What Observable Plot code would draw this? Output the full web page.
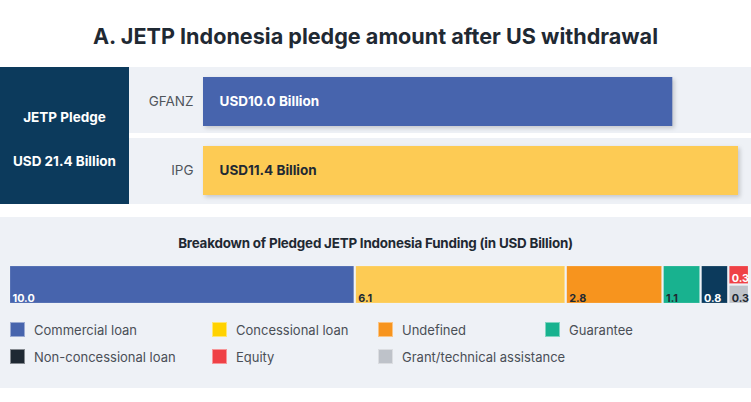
<!DOCTYPE html>
<html>
<head>
<meta charset="utf-8">
<script src="https://cdn.jsdelivr.net/npm/d3@7"></script>
<script src="https://cdn.jsdelivr.net/npm/@observablehq/plot@0.6"></script>
<style>
  html, body { margin: 0; padding: 0; background: #fff; }
  body { width: 751px; height: 402px; position: relative; overflow: hidden; font-family: Inter, "Noto Sans", sans-serif; }
  .abs { position: absolute; }
  #title { left: 0; top: 23px; width: 751px; text-align: center; font-weight: 700; font-size: 21.6px; color: #1f2933; letter-spacing: 0px; }
  #navy { left: 0; top: 67px; width: 129px; height: 137px; background: #0c3a5c; color: #fff; font-weight: 700; font-size: 13.5px; }
  #navy div { position: absolute; width: 129px; text-align: center; }
  .row { left: 129px; width: 622px; background: #eef1f6; }
  #bottomPanel { left: 0; top: 217px; width: 751px; height: 171px; background: #eef1f6; }
  #subtitle { left: 0; top: 235px; width: 751px; text-align: center; font-weight: 700; font-size: 13.4px; color: #1f2933; letter-spacing: -0.2px; }
  #top { left: 129px; top: 67px; }
  #stack { left: 0; top: 265px; }
  #top svg g[aria-label="bar"] rect { filter: drop-shadow(2px 2px 2px rgba(0,0,0,0.18)); }
  .leg { position: absolute; font-size: 13px; color: #4a4f57; white-space: nowrap; }
  .sw { position: absolute; width: 15px; height: 15px; box-sizing: border-box; border: 1px solid rgba(255,255,255,0.45); }
</style>
</head>
<body>
<div id="title" class="abs">A. JETP Indonesia pledge amount after US withdrawal</div>
<div id="navy" class="abs"><div id="navy1" style="top:42px">JETP Pledge</div><div id="navy2" style="top:86px"></div></div>
<div class="abs row" style="top:67px;height:66px"></div>
<div class="abs row" style="top:138px;height:66px"></div>
<div id="top" class="abs"></div>
<div id="bottomPanel" class="abs"></div>
<div id="subtitle" class="abs">Breakdown of Pledged JETP Indonesia Funding (in USD Billion)</div>
<div id="stack" class="abs"></div>
<div id="legend" class="abs" style="left:0;top:0"></div>
<script>
// ---- Data ----
const pledgeGroups = ["GFANZ", "IPG"];
const pledgeValues = [10.0, 11.4];
const pledgeColors = ["#4764ad", "#fdcb54"];
const pledgeLabelColors = ["#ffffff", "#1f2933"];

const fundingCategories = ["Commercial loan", "Concessional loan", "Undefined", "Guarantee", "Non-concessional loan", "Equity", "Grant/technical assistance"];
const fundingValues = [10.0, 6.1, 2.8, 1.1, 0.8, 0.3, 0.3];
const barColors = ["#4764ad", "#fdcb54", "#f7941e", "#18b28f", "#0c3a5c", "#ef4146", "#bec2c9"];
const legendColors = ["#4764ad", "#ffd200", "#f7941e", "#18b28f", "#1f2933", "#ef4146", "#bec2c9"];
const labelColors = ["#ffffff", "#1f2933", "#1f2933", "#1f2933", "#ffffff", "#ffffff", "#1f2933"];
// Equity and Grant share the last column, stacked vertically
const sharedColumn = ["Equity", "Grant/technical assistance"];

const totalPledge = d3.sum(pledgeValues);
document.getElementById("navy2").textContent = `USD ${totalPledge.toFixed(1)} Billion`;

// ---- Top chart ----
const topData = pledgeGroups.map((g, i) => ({group: g, value: pledgeValues[i], color: pledgeColors[i], lc: pledgeLabelColors[i]}));
const topChart = Plot.plot({
  width: 622,
  height: 137,
  marginLeft: 74,
  marginRight: 13,
  marginTop: 10,
  marginBottom: 9,
  style: {background: "transparent", fontFamily: "Inter, sans-serif", overflow: "visible"},
  x: {domain: [0, d3.max(pledgeValues)], axis: null},
  y: {domain: pledgeGroups, paddingInner: 20 / 69, paddingOuter: 0, label: null, tickSize: 0, tickPadding: 10},
  marks: [
    Plot.axisY({tickSize: 0, tickPadding: 10, fontSize: 13.5, color: "#50555c", label: null}),
    Plot.barX(topData, {x: "value", y: "group", fill: "color"}),
    Plot.text(topData, {x: 0, y: "group", text: d => `USD${d.value.toFixed(1)} Billion`, fill: "lc", textAnchor: "start", dx: 16, fontWeight: 700, fontSize: 13.5})
  ]
});
document.getElementById("top").append(topChart);

// ---- Stacked breakdown ----
const rows = fundingCategories.map((c, i) => ({cat: c, value: fundingValues[i], color: barColors[i], lc: labelColors[i]}));
// compute layout from values
const stackRows = [];
const sharedVals = rows.filter(r => sharedColumn.includes(r.cat));
const sharedTotal = d3.sum(sharedVals, r => r.value);
let cursor = 0;
let sharedDone = false;
for (const r of rows) {
  if (sharedColumn.includes(r.cat)) {
    if (!sharedDone) {
      let yCursor = 1;
      for (const s of sharedVals) {
        const h = s.value / sharedTotal;
        stackRows.push({...s, x1: cursor, x2: cursor + sharedTotal, y1: yCursor - h, y2: yCursor});
        yCursor -= h;
      }
      cursor += sharedTotal;
      sharedDone = true;
    }
  } else {
    stackRows.push({...r, x1: cursor, x2: cursor + r.value, y1: 0, y2: 1});
    cursor += r.value;
  }
}

const stackChart = Plot.plot({
  width: 751,
  height: 39,
  marginLeft: 9,
  marginRight: 2,
  marginTop: 0,
  marginBottom: 0,
  style: {background: "transparent", fontFamily: "Inter, sans-serif", overflow: "visible"},
  x: {domain: [0, cursor], axis: null},
  y: {domain: [0, 1], axis: null},
  marks: [
    Plot.rect(stackRows, {x1: "x1", x2: "x2", y1: "y1", y2: "y2", fill: "color", inset: 1, stroke: "#ffffff", strokeOpacity: 0.35, strokeWidth: 0.5}),
    Plot.text(stackRows, {x: "x1", y: "y1", text: d => d.value.toFixed(1), fill: "lc", textAnchor: "start", lineAnchor: "bottom", dx: 3, dy: -3, fontWeight: 700, fontSize: 10.8, letterSpacing: "-0.3px"})
  ]
});
document.getElementById("stack").append(stackChart);

// ---- Legend ----
const legendCols = [10, 212, 378, 545];
const legendRows = [322, 349];
const legend = document.getElementById("legend");
fundingCategories.forEach((c, i) => {
  const col = i % 4, row = Math.floor(i / 4);
  const sw = document.createElement("div");
  sw.className = "sw";
  sw.style.left = legendCols[col] + "px";
  sw.style.top = legendRows[row] + "px";
  sw.style.background = legendColors[i];
  legend.append(sw);
  const t = document.createElement("div");
  t.className = "leg";
  t.style.left = (legendCols[col] + 24) + "px";
  t.style.top = (legendRows[row] - 0.5) + "px";
  t.style.lineHeight = "16px";
  t.textContent = c;
  legend.append(t);
});
</script>
</body>
</html>
